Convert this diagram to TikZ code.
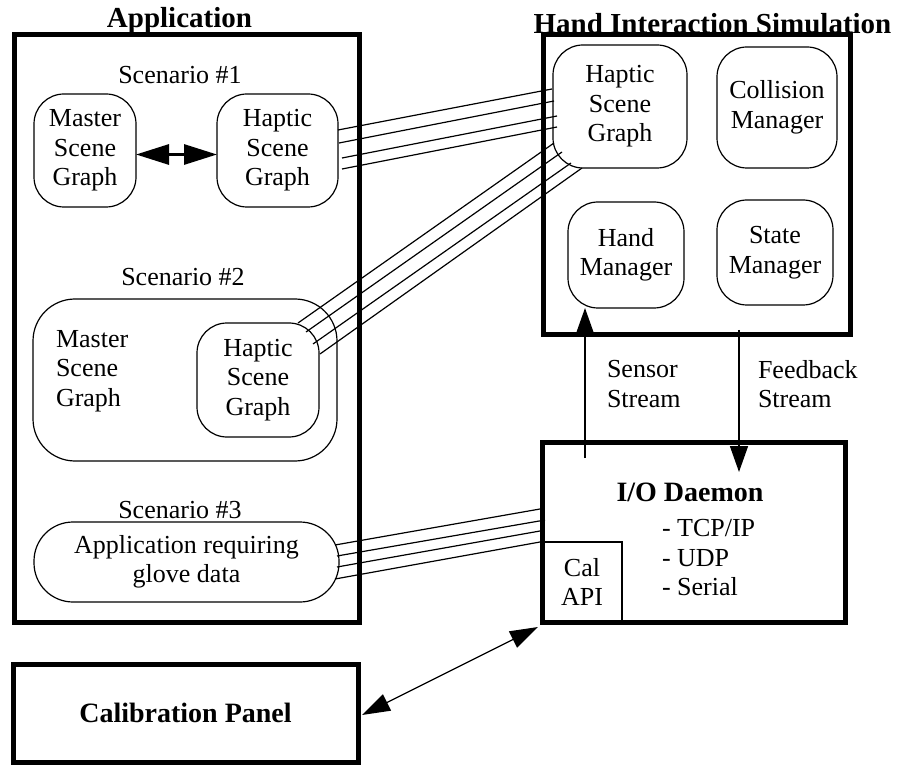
\documentclass[tikz,border=0pt]{standalone}
\usepackage{fontspec}
\setmainfont{Liberation Serif}
\usetikzlibrary{arrows.meta}
\usetikzlibrary{positioning}

\tikzset{
  frame/.style={draw, line width=5pt, inner sep=0pt, outer sep=0pt},
  blob/.style={draw, line width=1.2pt, rounded corners=30pt, align=center, inner sep=0pt, outer sep=0pt},
  plain/.style={inner sep=0pt, outer sep=0pt, align=center},
  heading/.style={inner sep=0pt, outer sep=0pt, font=\fontsize{29}{33}\selectfont\bfseries},
  link/.style={line width=1.2pt},
  flow/.style={line width=1.5pt, -{Triangle[length=26pt,width=18pt]}},
}

\begin{document}
\begin{tikzpicture}[x=1pt, y=-1pt, every node/.append style={font=\fontsize{26}{29.5}\selectfont}]
    \useasboundingbox (0,0) rectangle (897,767);
    \node[frame, minimum width=345pt, minimum height=587pt] (app) at (186.5,328.5) {};
    \node[frame, minimum width=307pt, minimum height=300pt] (his) at (696.5,185) {};
    \node[frame, minimum width=303pt, minimum height=180pt] (io) at (693.5,532) {};
    \node[frame, minimum width=345pt, minimum height=98pt, font=\fontsize{28}{32}\selectfont\bfseries] (cal) at (185.5,713) {Calibration Panel};
    \node[heading, above=1pt of app, xshift=-7pt] (apptitle) {Application};
    \node[heading, above=1pt of his, xshift=16pt] (histitle) {Hand Interaction Simulation};

    \node[plain] (scen1) at (180,75) {Scenario \#1};
    \node[blob, minimum width=102pt, minimum height=113pt] (master1) at (85,150.5) {Master\\Scene\\Graph};
    \node[blob, minimum width=121pt, minimum height=113pt, right=81pt of master1] (hap1) {Haptic\\Scene\\Graph};
    \draw[line width=3pt, {Triangle[length=33pt,width=20pt]}-{Triangle[length=33pt,width=20pt]}] ([yshift=-4pt]master1.east) -- ([yshift=-4pt]hap1.west);

    \node[plain] (scen2) at (183,277) {Scenario \#2};
    \node[blob, rounded corners=42pt, minimum width=304pt, minimum height=162pt] (scen2box) at (185,380) {};
    \node[plain, align=left, anchor=west] (master2) at (56,371) {Master\\Scene\\Graph};
    \node[blob, minimum width=122pt, minimum height=114pt] (hap2) at (258,380) {Haptic\\Scene\\Graph};

    \node[plain] (scen3) at (180,510) {Scenario \#3};
    \node[blob, rounded corners=39pt, minimum width=305pt, minimum height=80pt] (app3) at (186.5,562) {Application requiring\\glove data};

    \node[blob, minimum width=134pt, minimum height=123pt] (hapH) at (620,106.5) {Haptic\\Scene\\Graph};
    \node[blob, minimum width=120pt, minimum height=121pt] (coll) at (777,107.5) {Collision\\Manager};
    \node[blob, minimum width=116pt, minimum height=106pt] (hand) at (626,255) {Hand\\Manager};
    \node[blob, minimum width=116pt, minimum height=105pt] (state) at (775,252.5) {State\\Manager};

    \node[heading, font=\fontsize{28}{32}\selectfont\bfseries] (iotitle) at (690,492) {I/O Daemon};
    \node[plain, align=left, anchor=west] (iolist) at (662,558) {- TCP/IP\\- UDP\\- Serial};
    \node[draw, line width=1.5pt, minimum width=80pt, minimum height=80pt, anchor=south west, align=center, inner sep=0pt, outer sep=0pt] (calapi) at (io.south west) {Cal\\API};

    \draw[flow] ([shift={(43,16)}]io.north west) -- ([shift={(-41,0)}]hand.south);
    \draw[flow] ([shift={(42.5,-5)}]his.south) -- ([shift={(45.5,30)}]io.north);
    \node[plain, align=left, anchor=west] (sensorlbl) at (607,384) {Sensor\\Stream};
    \node[plain, align=left, anchor=west] (feedlbl) at (758,384) {Feedback\\Stream};

    \draw[link] ([shift={(0,-20.5)}]hap1.east) -- ([shift={(-1,-17.5)}]hapH.west);
    \draw[link] ([shift={(1,-7.5)}]hap1.east) -- ([shift={(1,-5.5)}]hapH.west);
    \draw[link] ([shift={(4,7.5)}]hap1.east) -- ([shift={(4,9.5)}]hapH.west);
    \draw[link] ([shift={(4,18.5)}]hap1.east) -- ([shift={(4,20.5)}]hapH.west);

    \draw[link] ([shift={(-21,0)}]hap2.north east) -- ([shift={(1,-25)}]hapH.south west);
    \draw[link] ([shift={(-13,9)}]hap2.north east) -- ([shift={(9,-16)}]hapH.south west);
    \draw[link] ([shift={(-6,21)}]hap2.north east) -- ([shift={(18,-5)}]hapH.south west);
    \draw[link] ([shift={(1,31)}]hap2.north east) -- ([shift={(29,0)}]hapH.south west);

    \draw[link] ([shift={(-4,-17)}]app3.east) -- ([shift={(-2,-23)}]io.west);
    \draw[link] ([shift={(-2,-6)}]app3.east) -- ([shift={(3,-12)}]io.west);
    \draw[link] ([shift={(-2,5)}]app3.east) -- ([shift={(-2,-1)}]io.west);
    \draw[link] ([shift={(-4,17)}]app3.east) -- ([shift={(-2,10)}]io.west);

    \draw[line width=1.3pt, {Triangle[length=28pt,width=18pt]}-{Triangle[length=28pt,width=18pt]}] ([shift={(-4,5)}]calapi.south west) -- ([shift={(4,2)}]cal.east);
\end{tikzpicture}
\end{document}
